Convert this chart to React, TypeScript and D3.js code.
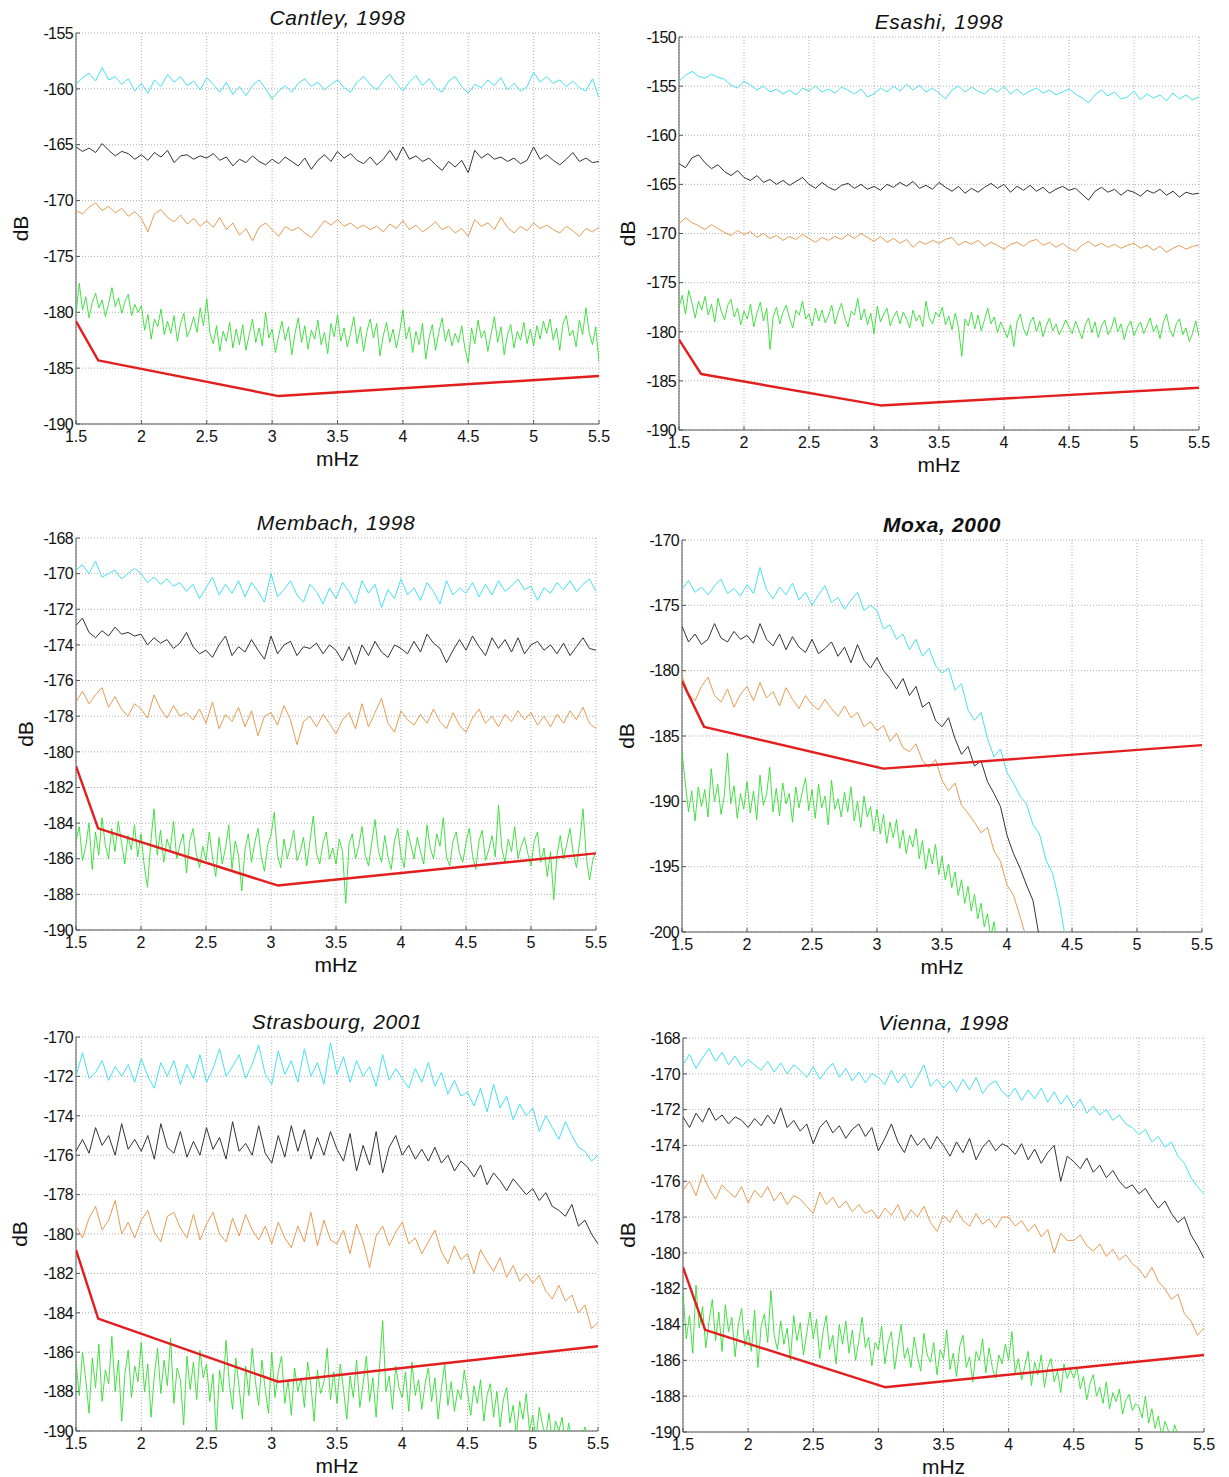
import React from "react";
import * as d3 from "d3";

// ---------- shared axis / reference data ----------
const X_MIN = 1.5;
const X_MAX = 5.5;
const COARSE_STEP = 0.05; // mHz spacing of cyan / black / orange spectra
const FINE_STEP = 0.025; // mHz spacing of green spectra
const xTickValues = [1.5, 2, 2.5, 3, 3.5, 4, 4.5, 5, 5.5];
const refFreq = [1.5, 1.67, 3.05, 5.5];
const refDb = [-180.8, -184.3, -187.5, -185.7];

// ---------- Cantley, 1998 ----------
const cantleyCyan = [-159.6,-159.0,-158.6,-159.3,-158.1,-159.2,-158.9,-159.6,-159.1,-160.2,-159.5,-160.4,-159.2,-159.8,-158.7,-159.4,-158.9,-159.7,-159.3,-160.1,-159.0,-159.6,-160.3,-159.4,-160.5,-159.8,-160.6,-159.7,-159.2,-160.0,-160.9,-160.2,-159.7,-160.3,-159.5,-159.1,-159.8,-159.4,-160.1,-159.6,-159.2,-159.9,-160.3,-159.4,-158.9,-159.6,-160.1,-159.3,-158.7,-159.5,-160.2,-159.4,-158.8,-159.7,-159.1,-159.9,-160.3,-159.3,-158.9,-159.8,-160.4,-159.6,-159.9,-159.2,-159.7,-159.0,-160.1,-159.5,-160.2,-159.8,-158.5,-159.4,-158.9,-159.5,-159.2,-159.8,-159.3,-159.9,-160.2,-159.1,-160.8];
const cantleyBlack = [-165.2,-165.6,-165.3,-165.7,-164.9,-165.5,-166.0,-165.6,-165.8,-166.3,-165.9,-166.4,-165.7,-166.1,-165.5,-166.6,-166.0,-165.9,-166.3,-166.0,-166.2,-165.8,-166.4,-166.1,-166.9,-166.3,-166.6,-166.0,-166.5,-166.8,-166.3,-166.7,-166.1,-166.5,-166.9,-166.2,-167.2,-166.4,-165.9,-166.5,-165.6,-166.2,-165.8,-166.4,-166.7,-166.1,-166.8,-166.3,-165.5,-166.4,-165.2,-166.3,-166.0,-166.5,-166.2,-166.8,-167.3,-166.5,-167.0,-166.4,-167.5,-165.5,-166.2,-165.8,-166.3,-166.1,-166.5,-166.2,-166.7,-166.4,-165.2,-166.3,-165.9,-166.4,-166.8,-166.3,-165.7,-166.5,-166.2,-166.6,-166.5];
const cantleyOrange = [-170.9,-171.2,-170.6,-170.2,-170.9,-170.5,-171.1,-170.7,-171.4,-171.0,-171.6,-172.8,-171.2,-170.8,-171.5,-171.9,-171.3,-172.1,-171.6,-172.3,-171.8,-172.4,-171.5,-172.6,-172.0,-173.1,-172.5,-173.6,-172.4,-172.0,-172.6,-173.2,-172.3,-172.7,-172.4,-172.9,-173.3,-172.6,-171.8,-172.2,-171.7,-172.3,-172.0,-172.5,-172.2,-172.6,-172.3,-172.8,-172.1,-172.5,-171.8,-172.6,-172.2,-172.8,-172.4,-171.9,-172.6,-172.3,-172.9,-172.5,-173.2,-171.7,-172.3,-172.0,-172.6,-171.5,-172.4,-172.9,-172.3,-172.7,-172.0,-172.5,-172.2,-172.6,-172.9,-172.3,-172.7,-173.2,-172.5,-172.8,-172.4];
const cantleyGreen = [-180.2,-177.4,-179.8,-178.6,-180.5,-179.1,-178.3,-179.6,-178.9,-180.4,-179.2,-177.8,-179.5,-178.7,-180.1,-179.0,-178.4,-180.3,-179.3,-180.0,-179.4,-181.6,-180.2,-182.4,-180.6,-181.3,-179.7,-182.0,-180.8,-181.9,-180.3,-182.6,-181.0,-180.1,-182.2,-181.5,-180.4,-181.8,-179.6,-181.2,-178.8,-181.9,-182.8,-181.2,-183.5,-181.7,-182.6,-180.9,-183.2,-181.5,-182.9,-181.1,-183.4,-182.0,-180.6,-182.7,-181.4,-183.0,-180.0,-182.3,-181.5,-183.6,-182.1,-180.8,-182.5,-181.3,-183.8,-181.9,-180.5,-182.7,-181.2,-183.3,-181.6,-182.4,-180.7,-182.9,-181.8,-183.7,-181.0,-182.2,-180.2,-182.6,-181.4,-183.1,-181.9,-180.4,-182.8,-181.3,-183.5,-181.7,-180.6,-182.3,-181.0,-183.9,-182.1,-180.9,-182.7,-181.5,-183.2,-181.8,-179.8,-182.4,-181.3,-183.6,-181.7,-182.9,-181.0,-184.2,-182.3,-181.1,-183.4,-181.8,-180.5,-182.6,-181.5,-183.0,-181.9,-182.7,-181.2,-183.3,-184.5,-181.4,-182.8,-180.7,-182.3,-181.6,-183.5,-181.9,-180.4,-182.7,-181.3,-183.8,-182.0,-181.1,-183.2,-181.7,-182.5,-180.9,-182.8,-181.5,-183.0,-181.2,-182.4,-180.8,-181.9,-180.6,-182.5,-181.4,-183.4,-181.0,-180.3,-182.1,-181.6,-183.1,-180.7,-182.0,-179.6,-181.8,-182.9,-181.3,-184.5];

// ---------- Esashi, 1998 ----------
const esashiCyan = [-154.5,-153.9,-153.5,-154.0,-154.2,-153.8,-154.1,-154.3,-154.9,-155.2,-154.5,-154.9,-155.4,-155.0,-155.6,-155.3,-155.8,-155.4,-155.9,-155.2,-155.5,-155.0,-155.6,-155.3,-155.7,-155.1,-155.4,-155.8,-155.3,-156.1,-155.8,-155.2,-155.6,-155.0,-155.5,-154.8,-155.4,-154.9,-155.6,-155.2,-155.7,-156.3,-155.4,-155.0,-155.6,-155.1,-155.5,-155.8,-155.2,-155.6,-155.0,-155.8,-155.3,-155.9,-155.5,-155.2,-155.7,-155.4,-155.9,-155.6,-155.3,-155.8,-156.2,-156.7,-155.9,-155.4,-156.0,-155.6,-156.3,-156.1,-155.5,-156.4,-155.8,-156.2,-155.9,-156.5,-155.7,-156.3,-155.9,-156.4,-156.1];
const esashiBlack = [-162.9,-163.3,-162.3,-162.0,-162.8,-163.4,-163.0,-163.7,-164.1,-163.6,-164.3,-164.6,-164.1,-164.8,-164.5,-165.0,-164.6,-165.1,-164.7,-164.3,-165.0,-165.4,-164.8,-165.3,-165.6,-165.1,-164.9,-165.4,-165.0,-165.5,-165.2,-165.6,-165.0,-165.3,-164.8,-165.2,-164.7,-165.4,-165.1,-165.5,-164.8,-165.3,-165.7,-165.2,-165.9,-165.4,-165.8,-165.3,-164.9,-165.4,-165.0,-165.8,-165.2,-165.6,-165.1,-165.7,-165.3,-165.9,-165.5,-165.2,-165.6,-165.4,-166.0,-166.6,-165.7,-165.3,-165.8,-165.5,-166.1,-165.6,-165.8,-166.2,-165.6,-165.9,-165.5,-166.1,-165.7,-166.3,-165.8,-166.0,-165.9];
const esashiOrange = [-169.0,-168.4,-168.9,-169.2,-169.6,-169.1,-169.5,-169.9,-170.2,-169.7,-170.1,-169.8,-170.4,-170.0,-170.5,-170.2,-170.7,-170.3,-170.6,-170.1,-170.5,-170.9,-170.4,-170.7,-170.3,-170.6,-170.1,-170.5,-170.0,-170.4,-170.8,-170.3,-170.9,-170.5,-171.0,-170.6,-171.4,-170.8,-171.1,-170.7,-171.0,-170.6,-170.4,-171.2,-170.8,-171.1,-170.7,-171.3,-170.9,-171.2,-171.6,-171.1,-170.9,-171.3,-170.8,-170.6,-171.2,-170.9,-171.4,-171.0,-171.5,-171.8,-171.2,-170.8,-171.3,-171.0,-171.4,-171.1,-171.5,-171.2,-171.0,-171.5,-171.2,-171.7,-171.3,-171.9,-171.5,-171.2,-171.6,-171.3,-171.2];
const esashiGreen = [-177.5,-176.3,-178.2,-175.8,-177.1,-178.6,-176.9,-177.8,-176.4,-178.3,-177.2,-179.0,-176.6,-177.9,-178.8,-177.3,-176.7,-178.5,-177.6,-179.3,-177.9,-178.7,-177.2,-179.5,-178.1,-177.0,-178.9,-177.6,-181.8,-178.4,-177.5,-179.2,-178.0,-177.3,-178.6,-179.6,-177.8,-178.3,-176.9,-178.7,-178.2,-179.4,-177.6,-178.9,-177.8,-179.1,-178.4,-177.3,-179.2,-178.0,-177.1,-178.6,-179.5,-177.9,-178.3,-176.6,-178.8,-177.7,-179.3,-178.1,-180.2,-177.4,-179.0,-178.2,-177.6,-179.4,-178.5,-177.9,-179.2,-178.0,-178.7,-179.6,-177.8,-178.9,-178.3,-179.5,-176.9,-178.6,-179.2,-178.0,-178.5,-177.5,-179.3,-178.4,-179.8,-178.1,-179.6,-182.5,-178.7,-179.4,-178.0,-179.7,-178.3,-179.9,-178.8,-177.6,-179.2,-178.5,-180.1,-179.0,-179.8,-180.6,-179.3,-181.5,-179.0,-178.2,-179.7,-180.4,-179.1,-178.5,-180.0,-178.9,-180.5,-179.4,-178.6,-179.9,-179.2,-180.3,-179.6,-178.8,-179.5,-180.2,-178.9,-179.8,-180.7,-179.3,-178.6,-180.1,-179.0,-180.6,-179.4,-178.8,-180.3,-179.7,-178.5,-180.0,-179.2,-180.8,-179.5,-178.9,-180.4,-179.6,-179.0,-180.2,-179.4,-178.6,-180.0,-179.3,-180.7,-179.1,-178.2,-179.8,-180.5,-179.2,-178.7,-180.3,-179.6,-181.0,-180.2,-178.9,-180.5];

// ---------- Membach, 1998 ----------
const membachCyan = [-169.8,-169.5,-170.0,-169.3,-170.2,-170.0,-169.8,-170.3,-170.0,-169.7,-170.0,-170.5,-170.2,-170.6,-170.3,-170.7,-170.5,-171.0,-170.6,-171.4,-170.8,-170.2,-171.2,-170.6,-171.1,-170.4,-171.3,-170.5,-171.0,-171.6,-170.0,-171.3,-170.9,-170.4,-171.2,-171.6,-170.6,-171.0,-171.7,-170.8,-171.4,-170.5,-171.0,-171.7,-170.4,-171.1,-170.6,-171.9,-170.9,-171.4,-170.3,-171.2,-170.8,-171.5,-170.5,-171.0,-171.7,-170.4,-171.2,-170.8,-171.1,-170.5,-171.3,-170.6,-171.2,-170.4,-171.0,-170.7,-170.3,-170.9,-170.7,-171.5,-170.8,-171.1,-170.5,-170.9,-170.4,-171.0,-170.6,-170.3,-171.0];
const membachBlack = [-172.9,-172.5,-173.3,-173.6,-173.2,-173.5,-173.0,-173.4,-173.3,-173.5,-173.4,-174.0,-173.6,-173.9,-173.7,-174.2,-173.9,-173.3,-174.1,-174.5,-174.3,-174.7,-174.0,-173.5,-174.6,-174.1,-174.4,-173.7,-174.3,-174.8,-173.5,-174.5,-174.0,-173.8,-174.6,-174.1,-174.2,-173.9,-174.5,-174.0,-174.3,-174.9,-174.1,-175.1,-174.0,-174.6,-173.8,-174.4,-174.7,-174.0,-174.2,-174.5,-173.8,-174.4,-173.4,-173.9,-174.2,-175.0,-174.3,-173.7,-174.3,-173.5,-174.1,-174.6,-173.6,-174.2,-173.7,-174.4,-173.6,-174.5,-174.0,-173.8,-174.3,-174.0,-174.5,-173.9,-174.6,-174.1,-173.6,-174.2,-174.3];
const membachOrange = [-177.2,-176.6,-177.3,-176.8,-176.4,-177.5,-176.9,-177.6,-178.0,-177.3,-177.6,-178.1,-176.8,-177.6,-178.1,-177.4,-178.0,-177.8,-178.2,-177.6,-178.4,-177.2,-178.7,-177.9,-178.3,-177.5,-178.6,-177.7,-179.1,-178.0,-177.8,-178.5,-177.4,-178.2,-179.6,-178.3,-178.0,-178.6,-177.9,-178.4,-179.0,-178.2,-177.8,-178.7,-177.3,-178.6,-177.8,-177.0,-178.4,-178.9,-177.7,-178.2,-178.5,-177.9,-178.4,-177.6,-178.3,-178.7,-177.8,-178.5,-178.9,-178.1,-177.6,-178.4,-178.0,-178.6,-177.9,-178.3,-177.7,-178.2,-177.8,-178.5,-178.0,-178.6,-177.9,-178.4,-177.7,-178.2,-177.5,-178.4,-178.7];
const membachGreen = [-185.0,-184.2,-186.1,-185.3,-184.0,-186.6,-184.5,-185.8,-183.7,-185.2,-186.0,-184.3,-185.6,-183.9,-185.1,-186.3,-184.7,-185.5,-184.1,-185.9,-184.6,-186.4,-187.6,-185.1,-183.2,-185.8,-184.4,-186.2,-184.9,-185.5,-183.9,-186.0,-185.2,-184.6,-186.8,-185.0,-184.3,-185.7,-186.5,-185.3,-186.1,-184.5,-185.9,-187.0,-184.8,-186.3,-185.4,-184.1,-186.6,-185.0,-185.8,-187.8,-185.5,-184.6,-186.2,-185.1,-184.3,-185.9,-186.7,-185.2,-184.7,-183.4,-185.8,-186.5,-184.9,-186.0,-185.3,-184.4,-186.1,-185.6,-184.8,-186.4,-185.0,-183.6,-185.7,-186.3,-185.1,-184.5,-186.0,-185.4,-186.3,-184.9,-185.6,-188.5,-185.2,-184.6,-186.0,-185.3,-184.2,-185.8,-186.4,-185.1,-183.8,-185.5,-186.2,-184.7,-185.9,-186.6,-185.0,-184.3,-185.8,-186.5,-184.4,-185.2,-186.0,-184.8,-185.6,-186.3,-184.1,-185.4,-186.0,-184.6,-185.3,-183.7,-185.9,-186.4,-185.0,-184.5,-185.7,-186.2,-185.1,-184.3,-185.8,-186.6,-185.0,-184.4,-186.1,-185.5,-184.7,-185.9,-183.0,-185.4,-186.2,-184.9,-185.6,-184.2,-186.0,-185.3,-184.8,-185.7,-186.4,-185.0,-184.5,-186.2,-185.4,-187.0,-185.6,-188.3,-185.8,-184.7,-186.0,-185.2,-184.3,-185.7,-186.5,-185.0,-183.2,-185.9,-187.2,-186.1,-185.6];

// ---------- Moxa, 2000 ----------
const moxaCyan = [-173.8,-173.1,-174.0,-173.6,-174.2,-173.5,-173.0,-174.1,-173.7,-174.3,-173.4,-174.1,-172.1,-173.8,-174.5,-173.6,-174.2,-173.3,-174.6,-174.0,-175.0,-174.2,-173.5,-174.8,-174.4,-175.3,-174.6,-174.0,-175.4,-175.0,-175.4,-176.8,-176.5,-177.6,-177.2,-178.4,-177.6,-178.9,-178.3,-179.6,-180.2,-179.8,-181.5,-181.0,-183.0,-183.8,-183.2,-185.2,-186.6,-186.0,-187.8,-188.6,-189.6,-190.2,-191.8,-192.5,-194.5,-195.5,-197.6,-200.5];
const moxaBlack = [-176.6,-177.8,-177.2,-178.0,-177.6,-176.4,-177.5,-177.8,-177.0,-177.6,-177.3,-177.9,-176.4,-177.6,-178.1,-177.2,-178.4,-177.4,-178.2,-178.6,-177.6,-178.7,-178.3,-177.8,-178.9,-178.2,-179.4,-178.0,-179.2,-179.8,-179.0,-180.0,-180.6,-181.4,-180.6,-181.9,-181.2,-182.8,-182.4,-183.8,-184.3,-183.6,-185.2,-186.4,-185.8,-187.3,-186.9,-188.5,-189.4,-190.4,-192.6,-194.0,-195.1,-196.4,-197.6,-200.5];
const moxaOrange = [-180.4,-181.8,-182.3,-181.2,-180.5,-181.9,-182.4,-181.4,-182.8,-181.8,-181.2,-182.3,-180.9,-182.1,-181.6,-182.7,-181.3,-182.2,-182.9,-181.9,-182.6,-183.0,-182.2,-182.9,-183.5,-182.7,-183.6,-183.2,-184.3,-183.9,-184.6,-184.2,-185.4,-184.8,-185.9,-186.2,-185.6,-186.9,-187.4,-186.8,-188.4,-189.2,-188.6,-190.3,-190.9,-191.6,-192.4,-192.0,-193.8,-194.6,-196.4,-197.2,-198.8,-200.5];
const moxaGreen = [-186.2,-188.6,-190.8,-189.2,-191.5,-188.9,-190.4,-189.1,-191.2,-187.5,-190.0,-188.7,-191.0,-189.6,-186.3,-190.2,-188.8,-191.3,-189.4,-190.6,-188.5,-190.9,-189.2,-191.4,-188.0,-190.3,-189.5,-187.4,-190.8,-189.0,-191.1,-188.6,-190.2,-189.4,-191.6,-188.9,-190.5,-189.3,-188.2,-190.7,-189.1,-191.3,-188.7,-190.5,-189.6,-191.8,-188.4,-190.6,-189.8,-191.2,-189.3,-190.8,-188.9,-191.5,-190.0,-192.0,-189.6,-191.2,-190.4,-192.3,-190.6,-192.5,-191.0,-193.2,-191.6,-192.8,-191.4,-193.6,-192.2,-194.0,-192.6,-193.5,-192.1,-194.4,-193.0,-195.2,-193.6,-194.8,-193.3,-195.6,-194.2,-196.0,-194.8,-196.6,-195.4,-197.2,-196.0,-197.8,-196.5,-198.4,-197.1,-199.0,-197.8,-199.6,-198.6,-200.4,-199.2,-201.0];

// ---------- Strasbourg, 2001 ----------
const strasbourgCyan = [-172.0,-170.8,-172.1,-171.8,-171.2,-172.2,-171.5,-172.0,-171.4,-172.3,-171.1,-172.0,-172.6,-171.3,-172.0,-171.2,-172.4,-171.4,-172.1,-170.9,-172.3,-171.6,-170.6,-172.0,-171.5,-170.9,-172.1,-171.4,-170.4,-171.9,-172.4,-170.7,-171.9,-171.2,-172.3,-170.6,-172.0,-171.3,-172.4,-170.3,-171.9,-171.0,-172.3,-171.2,-172.0,-171.5,-172.5,-170.9,-172.2,-171.6,-172.1,-172.6,-171.6,-172.3,-171.3,-172.5,-171.8,-172.9,-172.2,-173.0,-172.8,-173.5,-172.6,-173.8,-172.4,-173.6,-173.0,-174.2,-173.4,-174.0,-173.6,-174.8,-174.0,-174.6,-175.2,-174.3,-175.0,-175.6,-175.8,-176.3,-176.0];
const strasbourgBlack = [-175.8,-175.2,-175.9,-174.6,-175.5,-175.0,-176.0,-174.4,-175.7,-175.2,-175.8,-175.0,-176.2,-174.4,-175.6,-175.9,-174.8,-176.1,-175.3,-176.0,-174.6,-175.7,-175.1,-176.2,-174.3,-175.8,-175.4,-176.0,-174.5,-175.9,-176.4,-175.0,-176.1,-174.5,-175.8,-174.7,-176.2,-175.1,-176.0,-174.8,-175.7,-176.3,-174.9,-176.8,-175.5,-176.5,-174.8,-176.9,-175.6,-175.0,-176.0,-175.5,-176.2,-175.7,-176.3,-175.6,-176.4,-176.0,-176.8,-176.3,-176.6,-177.1,-176.5,-177.5,-176.9,-177.3,-177.8,-177.2,-177.6,-178.0,-177.7,-178.3,-177.9,-178.6,-178.8,-179.1,-178.5,-179.6,-179.3,-180.0,-180.5];
const strasbourgOrange = [-179.6,-180.2,-179.2,-178.6,-179.8,-179.3,-178.3,-180.0,-179.4,-180.2,-179.3,-178.8,-179.9,-180.4,-179.1,-178.9,-179.7,-180.2,-179.0,-180.3,-179.5,-178.9,-180.0,-180.4,-179.2,-180.1,-179.0,-179.8,-180.3,-179.6,-180.5,-179.4,-180.2,-180.7,-179.6,-180.4,-178.9,-180.6,-179.3,-180.3,-180.5,-179.8,-181.0,-179.5,-180.4,-181.7,-180.1,-179.6,-180.6,-179.9,-179.4,-180.5,-180.2,-181.0,-180.4,-179.8,-180.9,-181.5,-180.6,-181.3,-181.0,-182.0,-180.8,-181.4,-181.9,-181.2,-182.2,-181.6,-182.4,-182.0,-182.5,-182.1,-182.9,-183.3,-182.6,-183.4,-183.1,-184.0,-183.6,-184.8,-184.5];
const strasbourgGreen = [-186.5,-188.2,-186.0,-187.4,-189.1,-186.3,-187.8,-185.6,-188.5,-186.9,-187.6,-185.2,-188.0,-186.4,-189.5,-187.1,-185.9,-188.3,-186.7,-187.5,-185.5,-188.0,-186.6,-189.3,-187.2,-185.8,-188.1,-186.4,-187.7,-185.3,-188.6,-186.8,-187.4,-189.7,-186.2,-187.9,-186.5,-188.4,-185.9,-187.3,-186.6,-188.5,-187.1,-190.2,-186.9,-188.0,-185.4,-187.6,-188.9,-186.3,-187.8,-189.4,-186.7,-188.2,-185.8,-187.5,-188.7,-186.4,-187.9,-189.1,-186.0,-188.3,-187.0,-186.2,-188.6,-187.4,-189.2,-186.8,-188.0,-187.3,-188.8,-186.5,-187.7,-189.5,-186.9,-188.1,-187.5,-185.8,-188.4,-187.0,-188.6,-186.6,-187.9,-189.4,-187.2,-188.3,-186.4,-188.8,-187.6,-186.2,-188.5,-187.3,-189.3,-186.8,-184.4,-188.0,-187.2,-188.9,-186.7,-187.8,-188.3,-187.0,-189.0,-186.5,-188.2,-187.4,-188.9,-187.6,-186.8,-188.5,-187.3,-189.4,-187.8,-186.6,-188.7,-187.5,-189.0,-187.9,-188.4,-186.9,-188.0,-189.2,-187.7,-188.6,-187.4,-189.5,-188.2,-187.6,-189.3,-188.0,-189.8,-188.4,-187.8,-189.6,-188.7,-190.2,-188.5,-189.4,-188.1,-190.0,-189.2,-190.4,-188.8,-189.7,-190.3,-189.1,-190.6,-189.5,-190.0,-189.3,-190.8,-189.6,-190.5,-190.1,-190.9,-190.3,-189.8,-190.6,-190.4,-191.0,-191.0];

// ---------- Vienna, 1998 ----------
const viennaCyan = [-169.5,-168.9,-169.7,-169.1,-168.6,-169.3,-168.8,-169.5,-169.0,-169.6,-169.2,-169.5,-169.8,-169.3,-169.9,-169.4,-170.0,-169.5,-169.8,-170.2,-169.6,-170.3,-169.8,-169.4,-170.2,-169.7,-170.4,-169.9,-170.5,-170.0,-170.2,-170.6,-169.8,-170.5,-170.0,-170.8,-170.2,-169.5,-170.7,-170.3,-170.8,-170.4,-171.0,-170.3,-170.9,-170.2,-171.1,-170.6,-170.4,-171.0,-171.3,-170.8,-171.5,-170.9,-171.4,-170.8,-171.6,-171.0,-171.7,-171.2,-171.9,-171.4,-172.2,-171.8,-172.3,-172.0,-172.6,-172.3,-172.8,-173.0,-173.4,-173.1,-173.8,-173.5,-174.1,-173.8,-174.6,-175.0,-175.8,-176.3,-176.7];
const viennaBlack = [-172.4,-173.0,-172.2,-172.7,-171.9,-172.6,-172.3,-172.8,-172.4,-172.6,-173.0,-172.5,-172.9,-172.3,-172.8,-171.9,-173.0,-172.6,-173.2,-172.8,-173.9,-173.0,-172.6,-173.3,-172.9,-173.6,-173.1,-172.8,-173.5,-173.0,-174.3,-173.6,-172.8,-173.8,-174.4,-173.4,-174.0,-173.6,-174.2,-173.5,-174.0,-174.6,-173.8,-174.4,-173.6,-174.8,-174.1,-173.7,-174.3,-173.9,-174.1,-174.5,-173.9,-174.8,-174.2,-175.0,-174.4,-174.0,-176.0,-174.6,-174.9,-175.3,-174.7,-175.5,-175.1,-175.8,-175.4,-176.0,-176.4,-176.2,-176.7,-176.4,-177.0,-177.5,-177.1,-177.8,-178.3,-178.0,-179.0,-179.6,-180.3];
const viennaOrange = [-176.5,-176.0,-176.8,-175.6,-176.4,-177.0,-176.2,-176.6,-176.9,-176.3,-177.2,-176.5,-176.9,-176.3,-177.1,-176.6,-177.3,-176.8,-177.0,-177.4,-177.8,-176.6,-177.3,-176.9,-177.5,-177.1,-177.7,-177.3,-177.8,-177.6,-178.1,-177.5,-177.9,-177.3,-178.2,-177.6,-178.0,-177.4,-178.3,-178.8,-177.9,-178.3,-177.6,-178.2,-178.5,-177.8,-178.4,-178.1,-178.6,-178.0,-178.0,-178.5,-178.2,-178.8,-178.4,-179.1,-178.7,-180.0,-178.9,-179.3,-179.3,-179.0,-179.6,-179.9,-179.5,-180.2,-179.8,-180.4,-180.1,-180.6,-180.9,-181.4,-180.8,-181.6,-182.0,-182.6,-182.3,-183.4,-183.8,-184.6,-184.2];
const viennaGreen = [-182.2,-184.8,-183.5,-185.6,-181.8,-184.2,-183.0,-185.3,-183.8,-182.6,-184.9,-183.3,-185.5,-182.9,-184.4,-183.6,-185.8,-184.0,-183.1,-185.2,-184.3,-185.5,-183.2,-186.4,-184.1,-183.4,-185.0,-182.1,-184.6,-185.4,-183.8,-185.1,-184.2,-186.0,-183.5,-184.9,-183.9,-185.7,-184.5,-183.3,-184.8,-183.7,-185.9,-184.4,-183.5,-185.4,-184.6,-186.2,-184.0,-185.1,-183.8,-185.6,-184.3,-186.0,-184.9,-183.6,-185.3,-184.7,-186.3,-185.0,-185.4,-184.1,-186.2,-185.0,-184.4,-186.5,-185.2,-184.0,-185.9,-185.3,-186.4,-184.7,-185.8,-186.6,-184.5,-185.7,-186.1,-185.0,-186.8,-185.4,-185.9,-184.3,-186.5,-185.6,-186.9,-185.2,-184.6,-186.4,-185.8,-187.2,-185.5,-186.0,-184.8,-186.7,-185.3,-186.4,-187.0,-185.7,-186.2,-185.1,-186.0,-184.4,-186.7,-185.9,-187.1,-186.3,-185.5,-187.4,-186.1,-186.8,-185.7,-187.5,-186.4,-185.9,-187.2,-186.6,-187.8,-186.2,-187.0,-186.5,-187.0,-186.4,-187.6,-186.9,-188.2,-187.3,-186.8,-188.0,-187.5,-188.4,-187.2,-188.7,-187.8,-188.3,-187.6,-189.0,-188.2,-187.9,-188.8,-188.4,-188.6,-189.2,-188.0,-189.5,-188.7,-189.8,-189.1,-190.3,-189.4,-189.9,-190.5,-189.6,-190.2,-190.8,-190.0,-190.6,-191.0,-190.4,-190.9,-191.2,-191.0];

// ---------- panel layout ----------
type Panel = {
  title: string;
  bold: boolean;
  l: number; r: number; t: number; b: number;
  yMin: number; yMax: number; yStep: number;
  labelX: number;
  cyan: number[]; black: number[]; orange: number[]; green: number[];
};

const panels: Panel[] = [
  { title: "Cantley, 1998", bold: false, l: 76, r: 599, t: 33, b: 424, yMin: -190, yMax: -155, yStep: 5, labelX: 21,
    cyan: cantleyCyan, black: cantleyBlack, orange: cantleyOrange, green: cantleyGreen },
  { title: "Esashi, 1998", bold: false, l: 679, r: 1199, t: 37, b: 430, yMin: -190, yMax: -150, yStep: 5, labelX: 628,
    cyan: esashiCyan, black: esashiBlack, orange: esashiOrange, green: esashiGreen },
  { title: "Membach, 1998", bold: false, l: 76, r: 596, t: 538, b: 930, yMin: -190, yMax: -168, yStep: 2, labelX: 26,
    cyan: membachCyan, black: membachBlack, orange: membachOrange, green: membachGreen },
  { title: "Moxa, 2000", bold: true, l: 682, r: 1202, t: 540, b: 932, yMin: -200, yMax: -170, yStep: 5, labelX: 627,
    cyan: moxaCyan, black: moxaBlack, orange: moxaOrange, green: moxaGreen },
  { title: "Strasbourg, 2001", bold: false, l: 76, r: 598, t: 1037, b: 1431, yMin: -190, yMax: -170, yStep: 2, labelX: 20,
    cyan: strasbourgCyan, black: strasbourgBlack, orange: strasbourgOrange, green: strasbourgGreen },
  { title: "Vienna, 1998", bold: false, l: 683, r: 1204, t: 1038, b: 1432, yMin: -190, yMax: -168, yStep: 2, labelX: 628,
    cyan: viennaCyan, black: viennaBlack, orange: viennaOrange, green: viennaGreen },
];

const COLORS = {
  cyan: "#45e2ee",
  black: "#333333",
  orange: "#e69c52",
  green: "#30dd30",
  red: "#e31e1e",
  grid: "#9a9a9a",
  axis: "#555555",
};

const FONT = "Arial, 'Liberation Sans', Helvetica, sans-serif";

function PanelView({ p, idx }: { p: Panel; idx: number }) {
  const x = d3.scaleLinear().domain([X_MIN, X_MAX]).range([p.l, p.r]);
  const y = d3.scaleLinear().domain([p.yMin, p.yMax]).range([p.b, p.t]);
  const yTicks = d3.range(p.yMin, p.yMax + 0.001, p.yStep);

  const seriesPath = (vals: number[], step: number) =>
    d3.line<number>()
      .x((_, i) => x(X_MIN + i * step))
      .y((v) => y(v))(vals) || "";

  const refPath =
    d3.line<number>()
      .x((_, i) => x(refFreq[i]))
      .y((v) => y(v))(refDb) || "";

  const clipId = `clip-${idx}`;
  const cx = (p.l + p.r) / 2;
  const cy = (p.t + p.b) / 2;

  return (
    <g>
      <defs>
        <clipPath id={clipId}>
          <rect x={p.l} y={p.t} width={p.r - p.l} height={p.b - p.t} />
        </clipPath>
      </defs>
      {/* grid */}
      {xTickValues.map((v) => (
        <line key={`gx${v}`} x1={x(v)} x2={x(v)} y1={p.t} y2={p.b}
          stroke={COLORS.grid} strokeWidth={0.8} strokeDasharray="1,2" />
      ))}
      {yTicks.map((v) => (
        <line key={`gy${v}`} x1={p.l} x2={p.r} y1={y(v)} y2={y(v)}
          stroke={COLORS.grid} strokeWidth={0.8} strokeDasharray="1,2" />
      ))}
      {/* axes */}
      <line x1={p.l} x2={p.l} y1={p.t} y2={p.b} stroke={COLORS.axis} strokeWidth={1} />
      <line x1={p.l} x2={p.r} y1={p.b} y2={p.b} stroke={COLORS.axis} strokeWidth={1} />
      {xTickValues.map((v) => (
        <line key={`tx${v}`} x1={x(v)} x2={x(v)} y1={p.b} y2={p.b - 4} stroke={COLORS.axis} />
      ))}
      {yTicks.map((v) => (
        <line key={`ty${v}`} x1={p.l} x2={p.l + 4} y1={y(v)} y2={y(v)} stroke={COLORS.axis} />
      ))}
      {/* series */}
      <g clipPath={`url(#${clipId})`} fill="none">
        <path d={seriesPath(p.cyan, COARSE_STEP)} stroke={COLORS.cyan} strokeWidth={1} />
        <path d={seriesPath(p.black, COARSE_STEP)} stroke={COLORS.black} strokeWidth={1} />
        <path d={seriesPath(p.orange, COARSE_STEP)} stroke={COLORS.orange} strokeWidth={1} />
        <path d={seriesPath(p.green, FINE_STEP)} stroke={COLORS.green} strokeWidth={0.9} />
        <path d={refPath} stroke={COLORS.red} strokeWidth={2.4} strokeLinejoin="round" />
      </g>
      {/* tick labels */}
      {yTicks.map((v) => (
        <text key={`ly${v}`} x={p.l - 3} y={y(v)} dy="0.36em" textAnchor="end"
          fontSize={16} fontFamily={FONT} fill="#111" letterSpacing={-0.6}>{String(v)}</text>
      ))}
      {xTickValues.map((v) => (
        <text key={`lx${v}`} x={x(v)} y={p.b + 18} textAnchor="middle"
          fontSize={16} fontFamily={FONT} fill="#111">{String(v)}</text>
      ))}
      {/* labels */}
      <text x={cx} y={p.t - 8} textAnchor="middle" fontSize={21} fontStyle="italic"
        fontWeight={p.bold ? "bold" : "normal"} fontFamily={FONT} fill="#111"
        letterSpacing={0.6}>{p.title}</text>
      <text x={cx} y={p.b + 42} textAnchor="middle" fontSize={21} fontFamily={FONT} fill="#111">mHz</text>
      <text x={p.labelX} y={cy} textAnchor="middle" dy="0.35em" fontSize={21} fontFamily={FONT} fill="#111"
        transform={`rotate(-90, ${p.labelX}, ${cy})`}>dB</text>
    </g>
  );
}

export default function App() {
  return (
    <svg width={1229} height={1477} viewBox="0 0 1229 1477"
      style={{ position: "absolute", left: 0, top: 0, background: "#fff", display: "block" }}>
      <rect x={0} y={0} width={1229} height={1477} fill="#fff" />
      {panels.map((p, i) => (
        <PanelView key={p.title} p={p} idx={i} />
      ))}
    </svg>
  );
}
